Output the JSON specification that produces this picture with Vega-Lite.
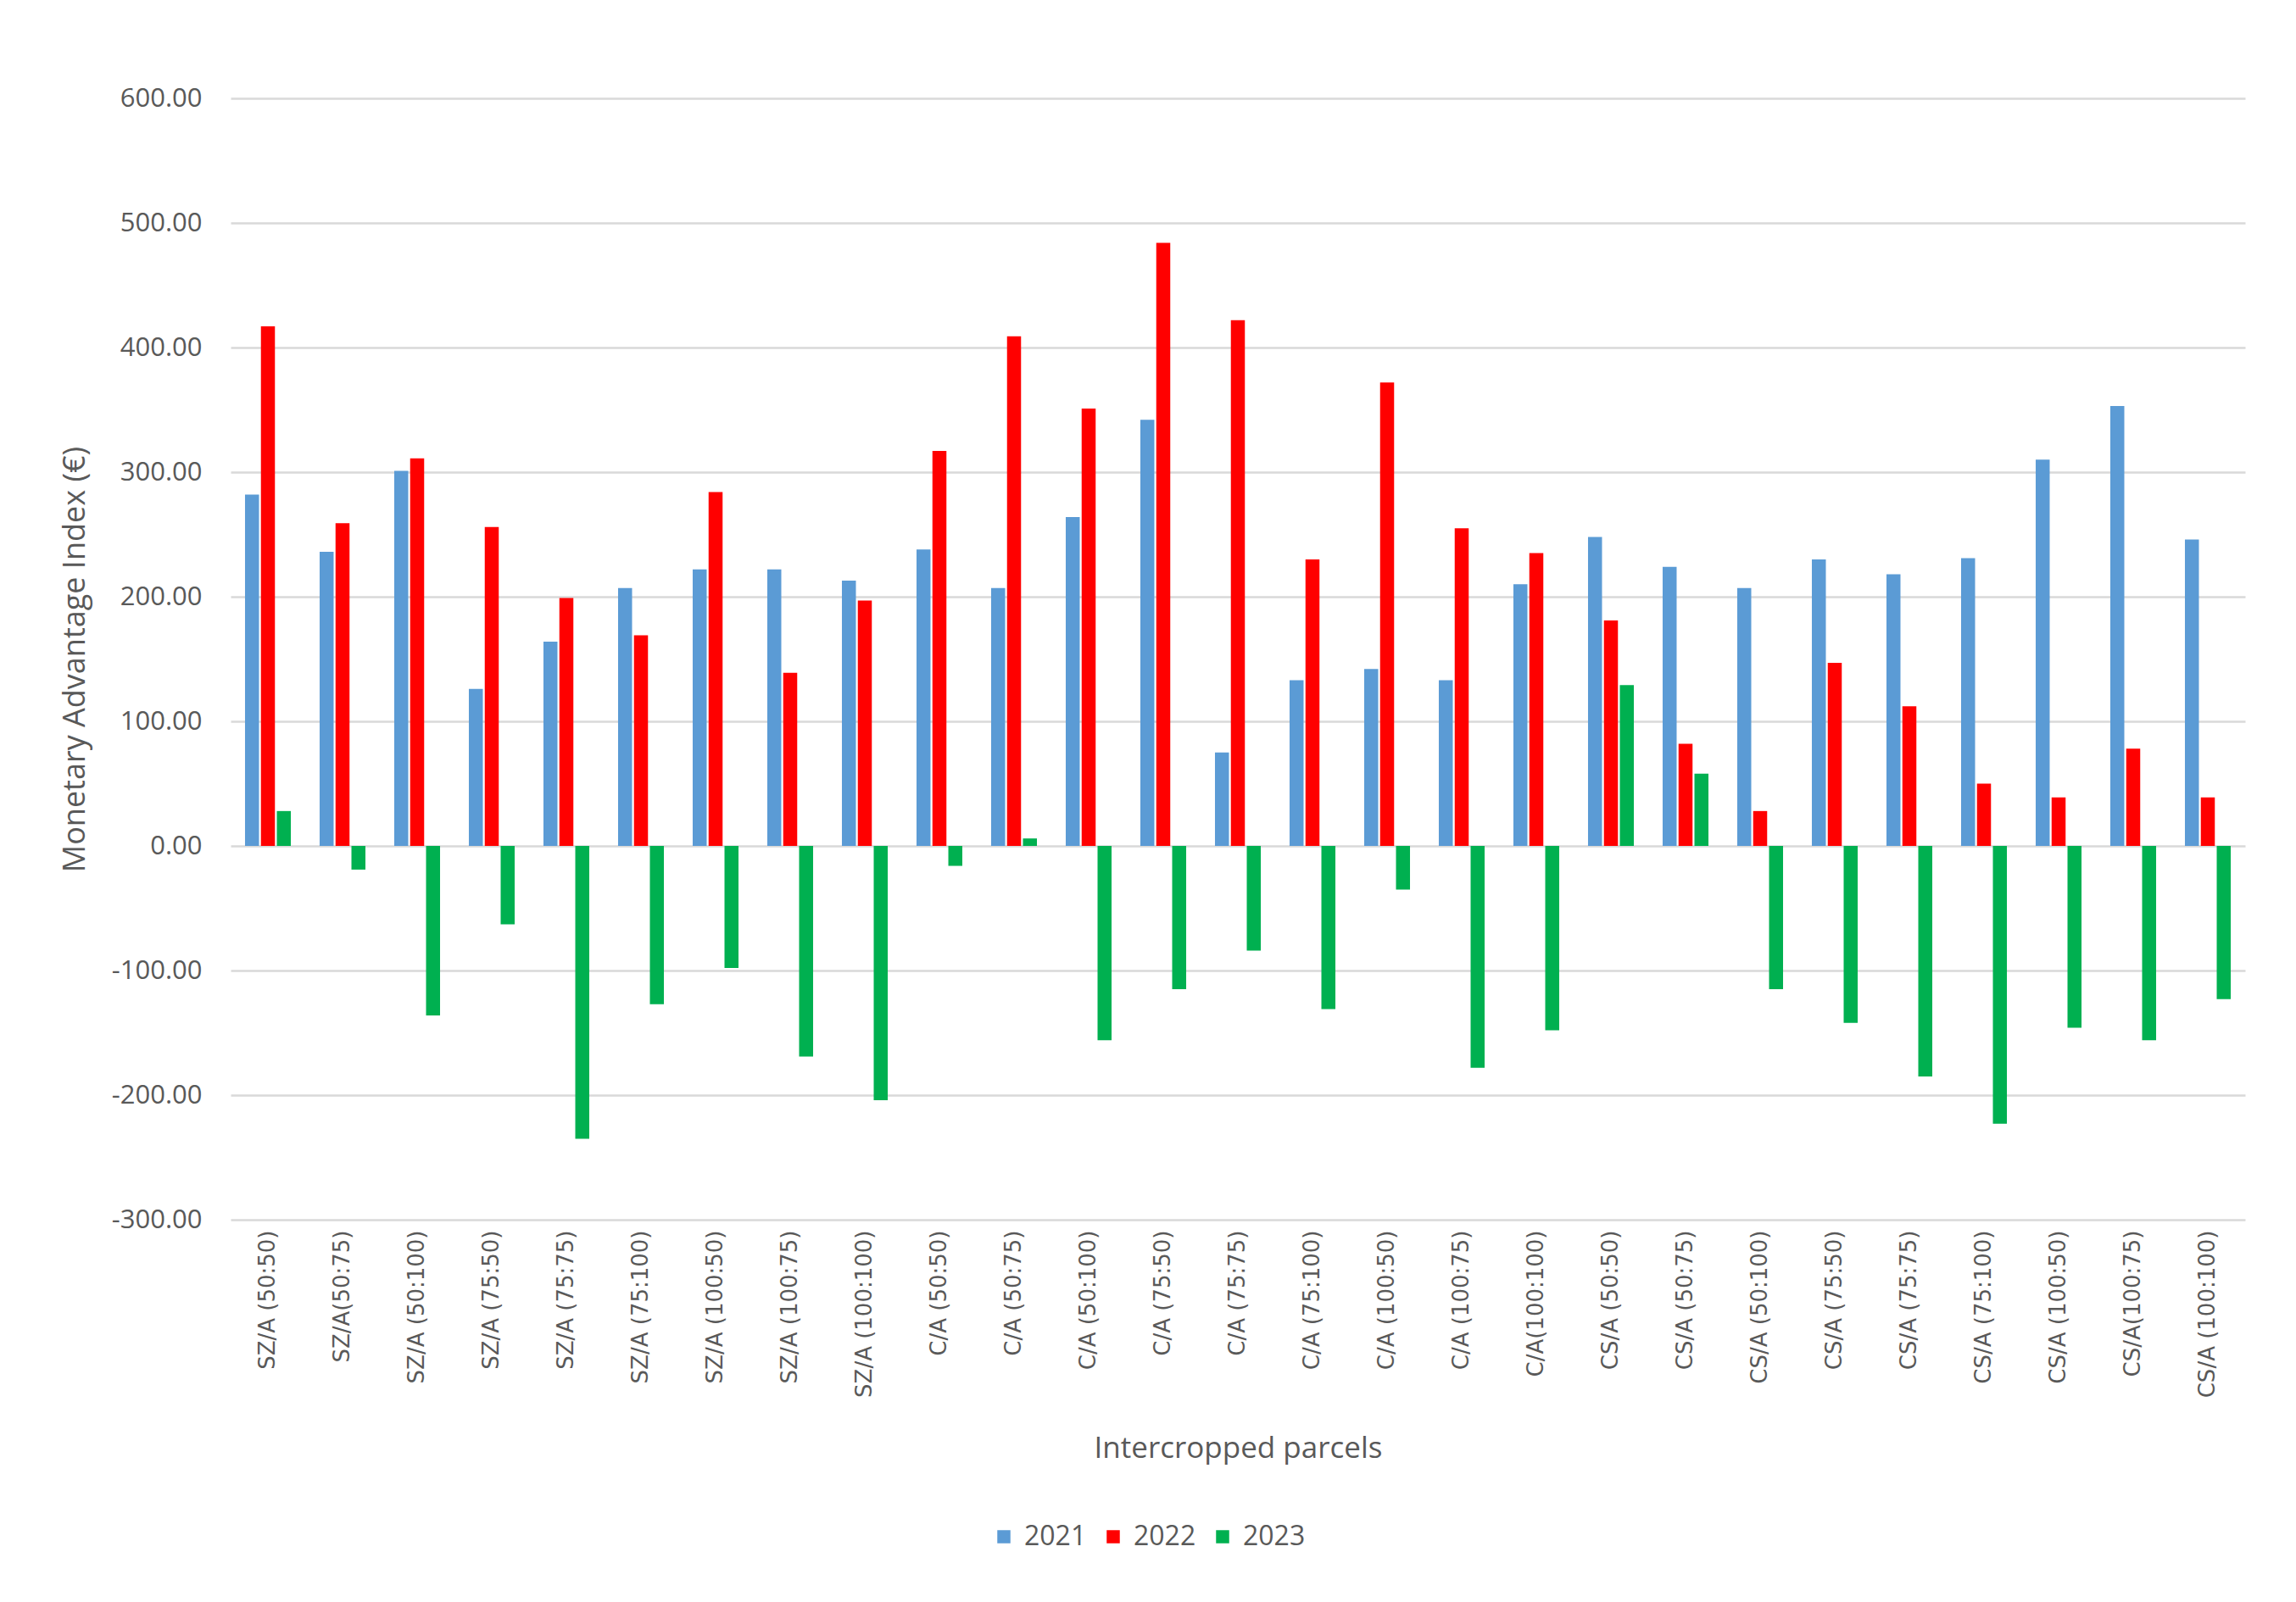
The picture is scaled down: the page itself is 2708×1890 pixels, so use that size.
{
  "$schema": "https://vega.github.io/schema/vega-lite/v6.json",
  "width": 2376,
  "height": 1323,
  "autosize": {"type": "none"},
  "padding": {"left": 272, "top": 116, "right": 60, "bottom": 451},
  "background": "white",
  "data": {
    "values": [
      {"parcel": "SZ/A (50:50)", "year": "2021", "value": 282},
      {"parcel": "SZ/A (50:50)", "year": "2022", "value": 417},
      {"parcel": "SZ/A (50:50)", "year": "2023", "value": 28},
      {"parcel": "SZ/A(50:75)", "year": "2021", "value": 236},
      {"parcel": "SZ/A(50:75)", "year": "2022", "value": 259},
      {"parcel": "SZ/A(50:75)", "year": "2023", "value": -19},
      {"parcel": "SZ/A (50:100)", "year": "2021", "value": 301},
      {"parcel": "SZ/A (50:100)", "year": "2022", "value": 311},
      {"parcel": "SZ/A (50:100)", "year": "2023", "value": -136},
      {"parcel": "SZ/A (75:50)", "year": "2021", "value": 126},
      {"parcel": "SZ/A (75:50)", "year": "2022", "value": 256},
      {"parcel": "SZ/A (75:50)", "year": "2023", "value": -63},
      {"parcel": "SZ/A (75:75)", "year": "2021", "value": 164},
      {"parcel": "SZ/A (75:75)", "year": "2022", "value": 199},
      {"parcel": "SZ/A (75:75)", "year": "2023", "value": -235},
      {"parcel": "SZ/A (75:100)", "year": "2021", "value": 207},
      {"parcel": "SZ/A (75:100)", "year": "2022", "value": 169},
      {"parcel": "SZ/A (75:100)", "year": "2023", "value": -127},
      {"parcel": "SZ/A (100:50)", "year": "2021", "value": 222},
      {"parcel": "SZ/A (100:50)", "year": "2022", "value": 284},
      {"parcel": "SZ/A (100:50)", "year": "2023", "value": -98},
      {"parcel": "SZ/A (100:75)", "year": "2021", "value": 222},
      {"parcel": "SZ/A (100:75)", "year": "2022", "value": 139},
      {"parcel": "SZ/A (100:75)", "year": "2023", "value": -169},
      {"parcel": "SZ/A (100:100)", "year": "2021", "value": 213},
      {"parcel": "SZ/A (100:100)", "year": "2022", "value": 197},
      {"parcel": "SZ/A (100:100)", "year": "2023", "value": -204},
      {"parcel": "C/A (50:50)", "year": "2021", "value": 238},
      {"parcel": "C/A (50:50)", "year": "2022", "value": 317},
      {"parcel": "C/A (50:50)", "year": "2023", "value": -16},
      {"parcel": "C/A (50:75)", "year": "2021", "value": 207},
      {"parcel": "C/A (50:75)", "year": "2022", "value": 409},
      {"parcel": "C/A (50:75)", "year": "2023", "value": 6},
      {"parcel": "C/A (50:100)", "year": "2021", "value": 264},
      {"parcel": "C/A (50:100)", "year": "2022", "value": 351},
      {"parcel": "C/A (50:100)", "year": "2023", "value": -156},
      {"parcel": "C/A (75:50)", "year": "2021", "value": 342},
      {"parcel": "C/A (75:50)", "year": "2022", "value": 484},
      {"parcel": "C/A (75:50)", "year": "2023", "value": -115},
      {"parcel": "C/A (75:75)", "year": "2021", "value": 75},
      {"parcel": "C/A (75:75)", "year": "2022", "value": 422},
      {"parcel": "C/A (75:75)", "year": "2023", "value": -84},
      {"parcel": "C/A (75:100)", "year": "2021", "value": 133},
      {"parcel": "C/A (75:100)", "year": "2022", "value": 230},
      {"parcel": "C/A (75:100)", "year": "2023", "value": -131},
      {"parcel": "C/A (100:50)", "year": "2021", "value": 142},
      {"parcel": "C/A (100:50)", "year": "2022", "value": 372},
      {"parcel": "C/A (100:50)", "year": "2023", "value": -35},
      {"parcel": "C/A (100:75)", "year": "2021", "value": 133},
      {"parcel": "C/A (100:75)", "year": "2022", "value": 255},
      {"parcel": "C/A (100:75)", "year": "2023", "value": -178},
      {"parcel": "C/A(100:100)", "year": "2021", "value": 210},
      {"parcel": "C/A(100:100)", "year": "2022", "value": 235},
      {"parcel": "C/A(100:100)", "year": "2023", "value": -148},
      {"parcel": "CS/A (50:50)", "year": "2021", "value": 248},
      {"parcel": "CS/A (50:50)", "year": "2022", "value": 181},
      {"parcel": "CS/A (50:50)", "year": "2023", "value": 129},
      {"parcel": "CS/A (50:75)", "year": "2021", "value": 224},
      {"parcel": "CS/A (50:75)", "year": "2022", "value": 82},
      {"parcel": "CS/A (50:75)", "year": "2023", "value": 58},
      {"parcel": "CS/A (50:100)", "year": "2021", "value": 207},
      {"parcel": "CS/A (50:100)", "year": "2022", "value": 28},
      {"parcel": "CS/A (50:100)", "year": "2023", "value": -115},
      {"parcel": "CS/A (75:50)", "year": "2021", "value": 230},
      {"parcel": "CS/A (75:50)", "year": "2022", "value": 147},
      {"parcel": "CS/A (75:50)", "year": "2023", "value": -142},
      {"parcel": "CS/A (75:75)", "year": "2021", "value": 218},
      {"parcel": "CS/A (75:75)", "year": "2022", "value": 112},
      {"parcel": "CS/A (75:75)", "year": "2023", "value": -185},
      {"parcel": "CS/A (75:100)", "year": "2021", "value": 231},
      {"parcel": "CS/A (75:100)", "year": "2022", "value": 50},
      {"parcel": "CS/A (75:100)", "year": "2023", "value": -223},
      {"parcel": "CS/A (100:50)", "year": "2021", "value": 310},
      {"parcel": "CS/A (100:50)", "year": "2022", "value": 39},
      {"parcel": "CS/A (100:50)", "year": "2023", "value": -146},
      {"parcel": "CS/A(100:75)", "year": "2021", "value": 353},
      {"parcel": "CS/A(100:75)", "year": "2022", "value": 78},
      {"parcel": "CS/A(100:75)", "year": "2023", "value": -156},
      {"parcel": "CS/A (100:100)", "year": "2021", "value": 246},
      {"parcel": "CS/A (100:100)", "year": "2022", "value": 39},
      {"parcel": "CS/A (100:100)", "year": "2023", "value": -123}
    ]
  },
  "mark": {"type": "bar"},
  "encoding": {
    "x": {
      "field": "parcel",
      "type": "nominal",
      "sort": null,
      "scale": {"paddingInner": 0.386, "paddingOuter": 0.193},
      "title": "Intercropped parcels",
      "axis": {
        "domain": false,
        "ticks": false,
        "grid": false,
        "labelAngle": -90,
        "labelFont": "DejaVu Sans",
        "labelFontSize": 26,
        "labelColor": "#595959",
        "labelPadding": 12,
        "labelLimit": 0,
        "labelOverlap": false,
        "titleFont": "Open Sans",
        "titleFontSize": 35,
        "titleFontWeight": "normal",
        "titleColor": "#595959",
        "titlePadding": 52
      }
    },
    "xOffset": {"field": "year", "type": "nominal", "scale": {"paddingInner": 0.12}},
    "y": {
      "field": "value",
      "type": "quantitative",
      "scale": {"domain": [-300, 600], "nice": false},
      "title": "Monetary Advantage Index (€)",
      "axis": {
        "values": [-300, -200, -100, 0, 100, 200, 300, 400, 500, 600],
        "labelExpr": "replace(format(datum.value, '.2f'), '\u2212', '-')",
        "domain": false,
        "ticks": false,
        "grid": true,
        "gridColor": "#d9d9d9",
        "gridWidth": 2.5,
        "labelFont": "Open Sans",
        "labelFontSize": 31,
        "labelColor": "#595959",
        "labelPadding": 34,
        "titleFont": "Open Sans",
        "titleFontSize": 36,
        "titleFontWeight": "normal",
        "titleColor": "#595959",
        "titlePadding": 24
      }
    },
    "color": {
      "field": "year",
      "type": "nominal",
      "scale": {"domain": ["2021", "2022", "2023"], "range": ["#5B9BD5", "#FF0000", "#00B050"]},
      "legend": {
        "orient": "none",
        "legendX": 896,
        "legendY": 1681,
        "direction": "horizontal",
        "title": null,
        "symbolType": "square",
        "symbolSize": 240,
        "labelFont": "Open Sans",
        "labelFontSize": 32,
        "labelColor": "#595959",
        "labelOffset": 8,
        "columnPadding": 15
      }
    }
  },
  "config": {"view": {"stroke": null}}
}
